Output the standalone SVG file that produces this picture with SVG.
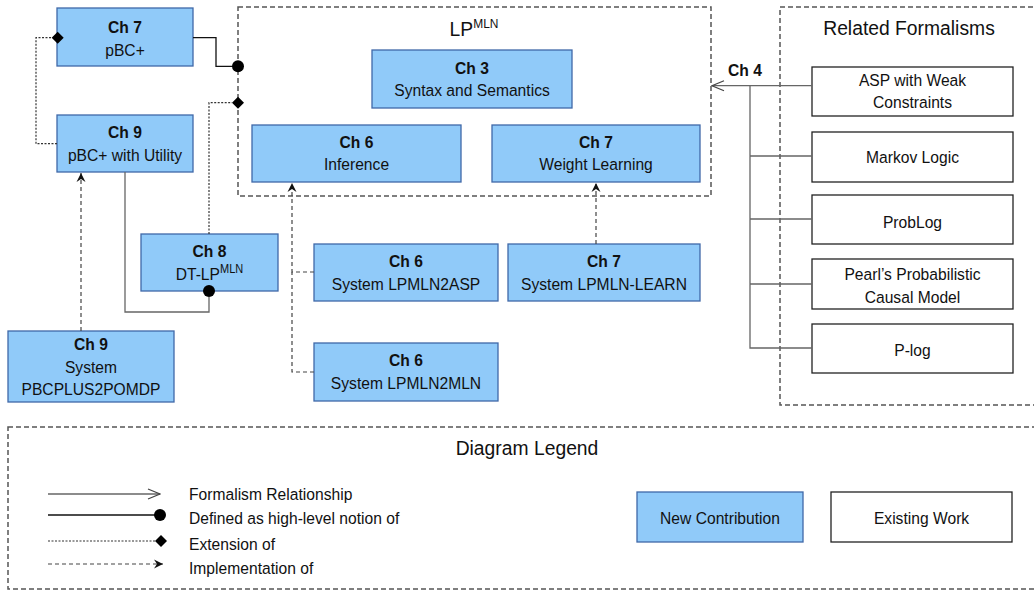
<svg xmlns="http://www.w3.org/2000/svg" width="1034" height="592" viewBox="0 0 1034 592">
<style>
text { font-family: "Liberation Sans", Arial, sans-serif; font-size: 17px; fill: #111; text-anchor: middle; transform-box: fill-box; transform-origin: center; transform: scaleX(0.92); }
.b { font-weight: bold; }
.big { font-size: 21px; }
.l { text-anchor: start; transform-origin: left center; }
.new { fill: #90CAF9; stroke: #3F68A8; stroke-width: 1.3; }
.old { fill: #fff; stroke: #222; stroke-width: 1.3; }
.cont { fill: none; stroke: #555; stroke-width: 1.5; stroke-dasharray: 5 3; }
.solid { fill: none; stroke: #111; stroke-width: 1.3; }
.grey { fill: none; stroke: #666; stroke-width: 1.3; }
.dot { fill: none; stroke: #333; stroke-width: 1.2; stroke-dasharray: 2 1.5; }
.dash { fill: none; stroke: #444; stroke-width: 1.2; stroke-dasharray: 4 3; }
</style>
<defs>
<marker id="impl" markerWidth="12" markerHeight="12" refX="10" refY="6" orient="auto" markerUnits="userSpaceOnUse">
<path d="M1,1.5 L10,6 L1,10.5 L4,6 Z" fill="#111"/>
</marker>
<marker id="open" markerWidth="14" markerHeight="12" refX="13" refY="6" orient="auto" markerUnits="userSpaceOnUse">
<path d="M1,1 L13,6 L1,11" fill="none" stroke="#444" stroke-width="1.2"/>
</marker>
</defs>

<!-- containers -->
<g id="lpmln-container">
<rect class="cont" x="238" y="7" width="473" height="189"/>
<text class="big" x="474" y="36">LP<tspan dy="-8" font-size="13">MLN</tspan></text>
</g>
<g id="related-container">
<rect class="cont" x="780" y="7" width="262" height="398"/>
<text class="big" x="909" y="35">Related Formalisms</text>
</g>

<!-- nodes -->
<g id="ch7-pbc">
<rect class="new" x="57" y="8" width="136" height="58"/>
<text class="b" x="125" y="33.5">Ch 7</text>
<text x="125" y="56.5">pBC+</text>
</g>
<g id="ch9-pbc-utility">
<rect class="new" x="57" y="115" width="136" height="57"/>
<text class="b" x="125" y="138.5">Ch 9</text>
<text x="125" y="161.5">pBC+ with Utility</text>
</g>
<g id="ch3-syntax">
<rect class="new" x="372" y="50" width="200" height="58"/>
<text class="b" x="472" y="74">Ch 3</text>
<text x="472" y="96.5">Syntax and Semantics</text>
</g>
<g id="ch6-inference">
<rect class="new" x="252" y="125" width="209" height="57"/>
<text class="b" x="356.5" y="148.5">Ch 6</text>
<text x="356.5" y="170.5">Inference</text>
</g>
<g id="ch7-weight-learning">
<rect class="new" x="492" y="125" width="208" height="57"/>
<text class="b" x="596" y="148.5">Ch 7</text>
<text x="596" y="170.5">Weight Learning</text>
</g>
<g id="ch8-dt-lpmln">
<rect class="new" x="141" y="234" width="137" height="57"/>
<text class="b" x="209.5" y="257.5">Ch 8</text>
<text x="209.5" y="280">DT-LP<tspan dy="-7" font-size="12">MLN</tspan></text>
</g>
<g id="ch9-system">
<rect class="new" x="8" y="331" width="166" height="71"/>
<text class="b" x="91" y="350.5">Ch 9</text>
<text x="91" y="373">System</text>
<text x="91" y="395">PBCPLUS2POMDP</text>
</g>
<g id="ch6-lpmln2asp">
<rect class="new" x="314" y="244" width="184" height="57"/>
<text class="b" x="406" y="267.5">Ch 6</text>
<text x="406" y="290.5">System LPMLN2ASP</text>
</g>
<g id="ch7-lpmln-learn">
<rect class="new" x="508" y="244" width="192" height="57"/>
<text class="b" x="604" y="267.5">Ch 7</text>
<text x="604" y="290.5">System LPMLN-LEARN</text>
</g>
<g id="ch6-lpmln2mln">
<rect class="new" x="314" y="343" width="184" height="58"/>
<text class="b" x="406" y="366.5">Ch 6</text>
<text x="406" y="389.5">System LPMLN2MLN</text>
</g>
<g id="asp-weak">
<rect class="old" x="812" y="67" width="201" height="49"/>
<text x="912.5" y="86">ASP  with Weak</text>
<text x="912.5" y="108.5">Constraints</text>
</g>
<g id="markov-logic">
<rect class="old" x="812" y="132" width="201" height="50"/>
<text x="912.5" y="163">Markov Logic</text>
</g>
<g id="problog">
<rect class="old" x="812" y="195" width="201" height="49"/>
<text x="912.5" y="228">ProbLog</text>
</g>
<g id="pearl">
<rect class="old" x="812" y="259" width="201" height="50"/>
<text x="912.5" y="280.5">Pearl’s Probabilistic</text>
<text x="912.5" y="303">Causal Model</text>
</g>
<g id="plog">
<rect class="old" x="812" y="324" width="201" height="49"/>
<text x="912.5" y="356.5">P-log</text>
</g>

<!-- connectors -->
<g id="connectors">
<path class="solid" d="M193,37.7 H216 V66.3 H238"/>
<circle cx="238" cy="66.3" r="6" fill="#000"/>
<path class="dot" d="M209,234 V102.7 H232"/>
<path d="M238,96.7 L244,102.7 L238,108.7 L232,102.7 Z" fill="#000"/>
<path class="dot" d="M57,143.7 H36 V37.7 H52"/>
<path d="M57.7,31.7 L63.7,37.7 L57.7,43.7 L51.7,37.7 Z" fill="#000"/>
<path class="grey" d="M125,172 V312 H209 V297"/>
<circle cx="209" cy="291" r="6" fill="#000"/>
<path class="dash" d="M81,331 V173" marker-end="url(#impl)"/>
<path class="dash" d="M314,272 H292 V183" marker-end="url(#impl)"/>
<path class="dash" d="M314,372 H292 V272"/>
<path class="dash" d="M596,244 V183" marker-end="url(#impl)"/>
<path class="grey" d="M812,85.7 H712" marker-end="url(#open)"/>
<path class="grey" d="M750,86 V348 H812 M750,156 H812 M750,219 H812 M750,284 H812"/>
<text class="b" x="745" y="76">Ch 4</text>
</g>

<!-- legend -->
<g id="legend">
<rect class="cont" x="8" y="427" width="1040" height="162"/>
<text class="big" x="527" y="455">Diagram Legend</text>
<path class="grey" d="M48,494 H160" marker-end="url(#open)"/>
<text class="l" x="189" y="500">Formalism Relationship</text>
<path class="solid" d="M48,515 H156"/>
<circle cx="160" cy="515" r="6" fill="#000"/>
<text class="l" x="189" y="524">Defined as high-level notion of</text>
<path class="dot" d="M48,541 H156"/>
<path d="M161,535 L167,541 L161,547 L155,541 Z" fill="#000"/>
<text class="l" x="189" y="550.5">Extension of</text>
<path class="dash" d="M48,564 H163" marker-end="url(#impl)"/>
<text class="l" x="189" y="574">Implementation of</text>
</g>
<g id="legend-new">
<rect class="new" x="637" y="492" width="166" height="50"/>
<text x="720" y="524">New Contribution</text>
</g>
<g id="legend-existing">
<rect class="old" x="831" y="492" width="181" height="50"/>
<text x="921.5" y="524">Existing Work</text>
</g>
</svg>
